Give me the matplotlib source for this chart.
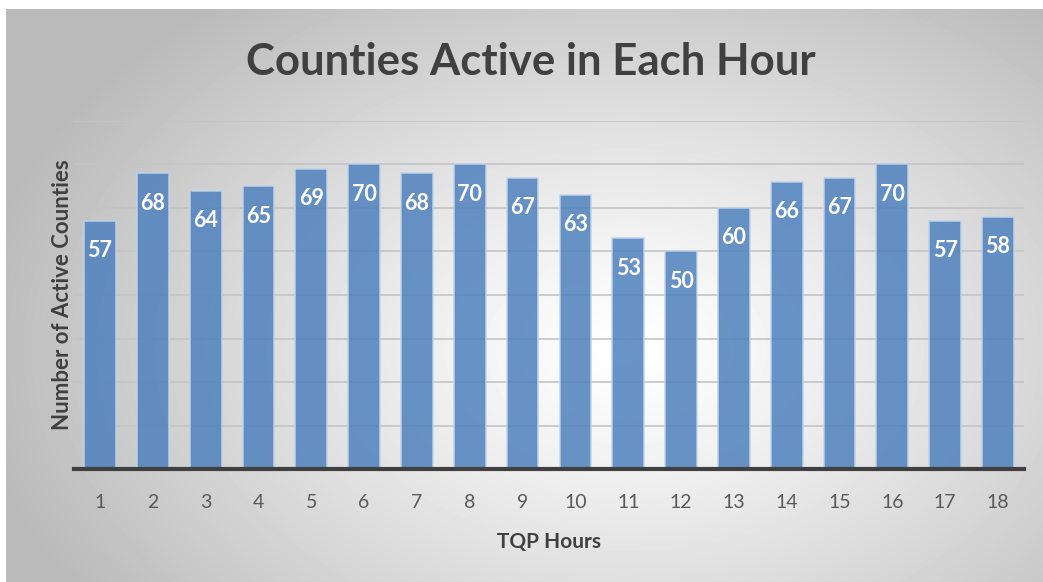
import numpy as np
import matplotlib
matplotlib.use("Agg")
import matplotlib.pyplot as plt

hours = [str(h) for h in range(1, 19)]
active = [57, 68, 64, 65, 69, 70, 68, 70, 67, 63, 53, 50, 60, 66, 67, 70, 57, 58]

plt.rcParams["font.family"] = ["Lato", "DejaVu Sans"]
W, H = 1043, 582
fig = plt.figure(figsize=(W / 100, H / 100), dpi=100, facecolor="white")

# radial gray-to-white background, as in the Excel chart area
bg = fig.add_axes([6 / W, 0, 1 - 6 / W, 1 - 9 / H], zorder=0)
yy, xx = np.mgrid[0:573, 0:1037]
r = np.sqrt(((xx - 620) / 620) ** 2 + ((yy - 340) / 420) ** 2)
shade = 1 - 0.27 * np.clip(r / 1.05, 0, 1) ** 1.2
bg.imshow(shade, cmap="gray", vmin=0, vmax=1, aspect="auto", interpolation="bilinear")
bg.axis("off")

ax = fig.add_axes([73.6 / W, 1 - 469 / H, (1024.4 - 73.6) / W, (469 - 121) / H], zorder=1)
ax.set_facecolor("none")
x = np.arange(len(hours))
bars = ax.bar(x, active, width=0.6, color="#4f81bd", alpha=0.85,
              edgecolor="#c3d4ea", linewidth=1.2, zorder=2)
for xi, v in zip(x, active):
    ax.annotate(str(v), (xi, v), xytext=(0, -14), textcoords="offset points",
                ha="center", va="top", color="white", fontsize=15.5, fontweight="bold", zorder=3)

ax.set_ylim(0, 80)
ax.set_xlim(-0.5, len(hours) - 0.5)
ax.set_yticks(range(10, 81, 10))
ax.yaxis.grid(True, color="#c4c4c4", linewidth=1.2, zorder=1)
ax.set_axisbelow(True)
ax.set_yticklabels([])
ax.tick_params(axis="y", length=0)
ax.set_xticks(x)
ax.set_xticklabels(hours, fontsize=14, color="#595959")
ax.tick_params(axis="x", length=0, pad=18)
for s in ["top", "right", "left"]:
    ax.spines[s].set_visible(False)
ax.spines["bottom"].set_color("#404040")
ax.spines["bottom"].set_linewidth(3)

ax.set_xlabel("TQP Hours", fontsize=15, fontweight="bold", color="#404040", labelpad=15)
ax.set_ylabel("Number of Active Counties", fontsize=16, fontweight="bold", color="#404040", labelpad=-3)
fig.text(531 / W, 1 - 62 / H, "Counties Active in Each Hour", ha="center", va="center",
         fontsize=31.5, fontweight="bold", color="#404040")

fig.savefig("out.png", dpi=100, facecolor="white")
